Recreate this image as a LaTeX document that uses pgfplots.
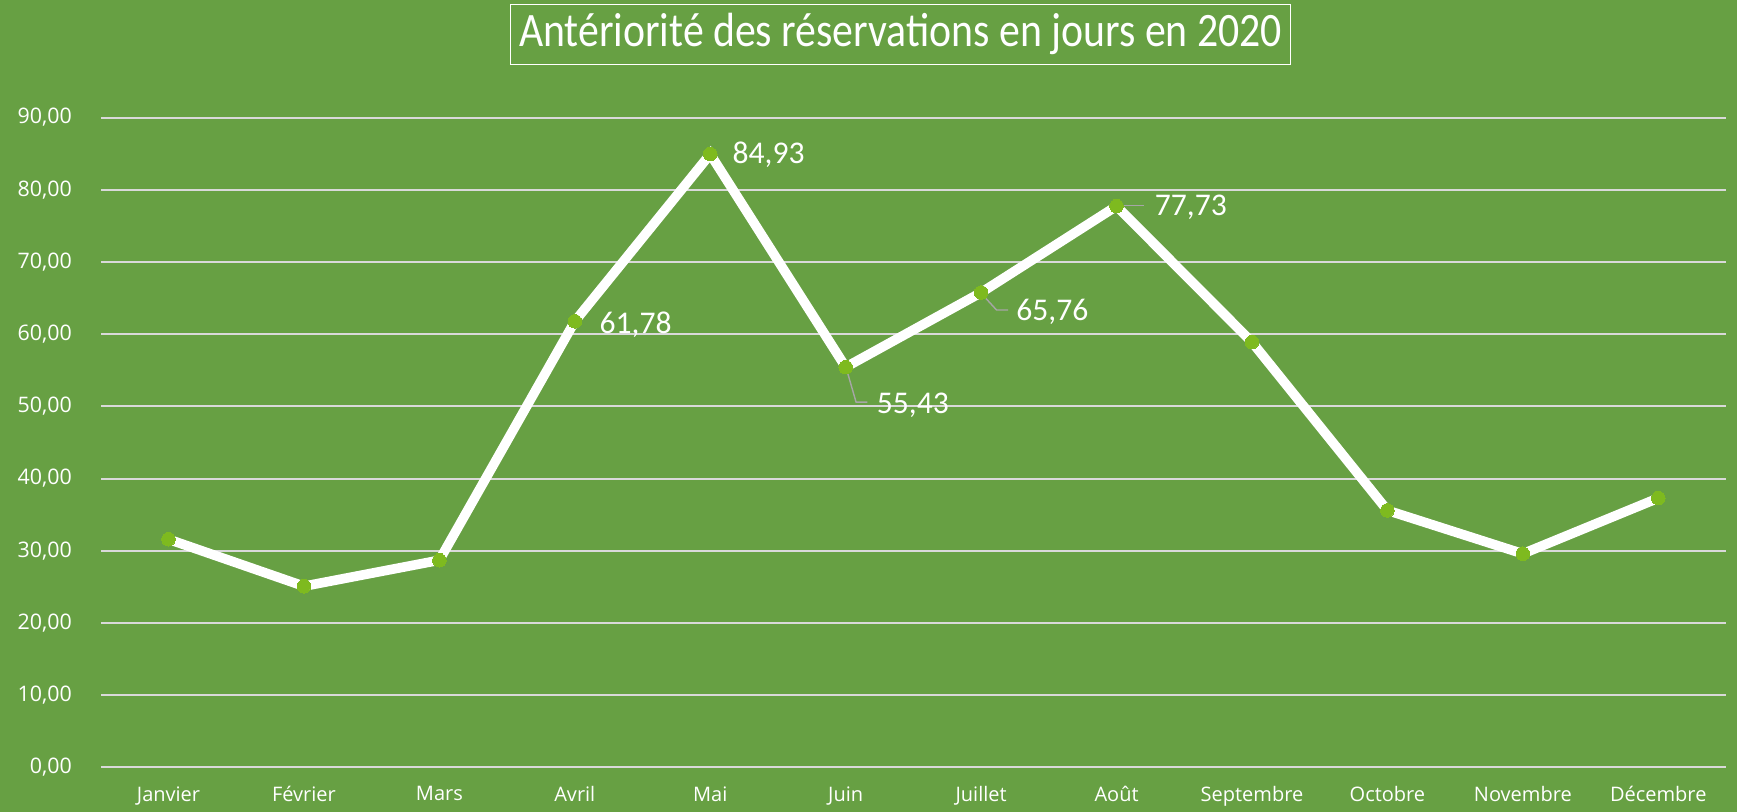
\documentclass[border=0pt]{standalone}
\usepackage{pgfplots}
\pgfplotsset{compat=1.18}
\usepackage{graphicx}
\usepackage{fontspec}
\setmainfont{Open Sans}
\newfontfamily\calib{Carlito}
\definecolor{bg}{HTML}{67A043}
\definecolor{gridc}{HTML}{D9D9D9}
\definecolor{mk}{HTML}{7EBA1F}
\definecolor{leader}{HTML}{A6A6A6}
\begin{document}
\begin{tikzpicture}
\fill[bg] (0,0) rectangle (868.5pt,406pt);
\begin{axis}[
  at={(50.4pt,22.25pt)}, anchor=south west,
  scale only axis, width=812.6pt, height=325pt,
  xmin=-0.5, xmax=11.5, ymin=0, ymax=90,
  ytick={0,10,...,90},
  xtick={0,...,11},
  xticklabels={Janvier,Février,Mars,Avril,Mai,Juin,Juillet,Août,Septembre,Octobre,Novembre,Décembre},
  ymajorgrids, grid style={color=gridc, line width=1pt},
  axis line style={draw=none}, major tick style={draw=none},
  tick label style={text=white},
  xticklabel style={font=\fontsize{10}{12}\selectfont, yshift=-6pt},
  yticklabel style={font=\fontsize{10.7}{13}\selectfont, xshift=-11pt},
  /pgf/number format/fixed, /pgf/number format/fixed zerofill, /pgf/number format/precision=2,
  /pgf/number format/use comma, /pgf/number format/1000 sep={}, /pgf/number format/assume math mode=true,
  clip=false,
]
\addplot[white, line width=4.8pt, mark=*, mark size=3.4pt, mark options={draw=mk, fill=mk, line width=0pt}] coordinates {
(0,31.6) (1,25.1) (2,28.7) (3,61.78) (4,84.93) (5,55.43) (6,65.76) (7,77.73) (8,58.9) (9,35.6) (10,29.6) (11,37.3)};
\begin{scope}[every node/.style={text=white, font=\calib\fontsize{15.8}{18}\selectfont, inner sep=0pt, anchor=west}]
\node at ([xshift=12.2pt,yshift=-1.7pt]axis cs:3,61.78) {61,78};
\node at ([xshift=11pt,yshift=-0.5pt]axis cs:4,84.93) {84,93};
\node at ([xshift=15.4pt,yshift=-18.8pt]axis cs:5,55.43) {55,43};
\node at ([xshift=17.4pt,yshift=-9.5pt]axis cs:6,65.76) {65,76};
\node at ([xshift=19pt,yshift=-0.5pt]axis cs:7,77.73) {77,73};
\end{scope}
\draw[leader, line width=0.7pt] ([xshift=1pt,yshift=-3pt]axis cs:5,55.43) -- ([xshift=5.2pt,yshift=-17.5pt]axis cs:5,55.43) -- ([xshift=10.8pt,yshift=-17.5pt]axis cs:5,55.43);
\draw[leader, line width=0.7pt] ([xshift=2pt,yshift=-2.5pt]axis cs:6,65.76) -- ([xshift=7.7pt,yshift=-8.7pt]axis cs:6,65.76) -- ([xshift=13.5pt,yshift=-8.7pt]axis cs:6,65.76);
\draw[leader, line width=0.7pt] ([xshift=3pt,yshift=0.3pt]axis cs:7,77.73) -- ([xshift=13.9pt,yshift=0.3pt]axis cs:7,77.73);
\end{axis}
\node[draw=white, line width=0.8pt, text=white, minimum width=390pt, minimum height=30pt, inner sep=0pt, font=\calib\fontsize{24}{28}\selectfont] at (450.3pt,388.8pt) {\scalebox{0.87}[1]{Antériorité des réservations en jours en 2020}};
\pgfresetboundingbox
\path[use as bounding box] (0,0) rectangle (868.5pt,406pt);
\end{tikzpicture}
\end{document}
